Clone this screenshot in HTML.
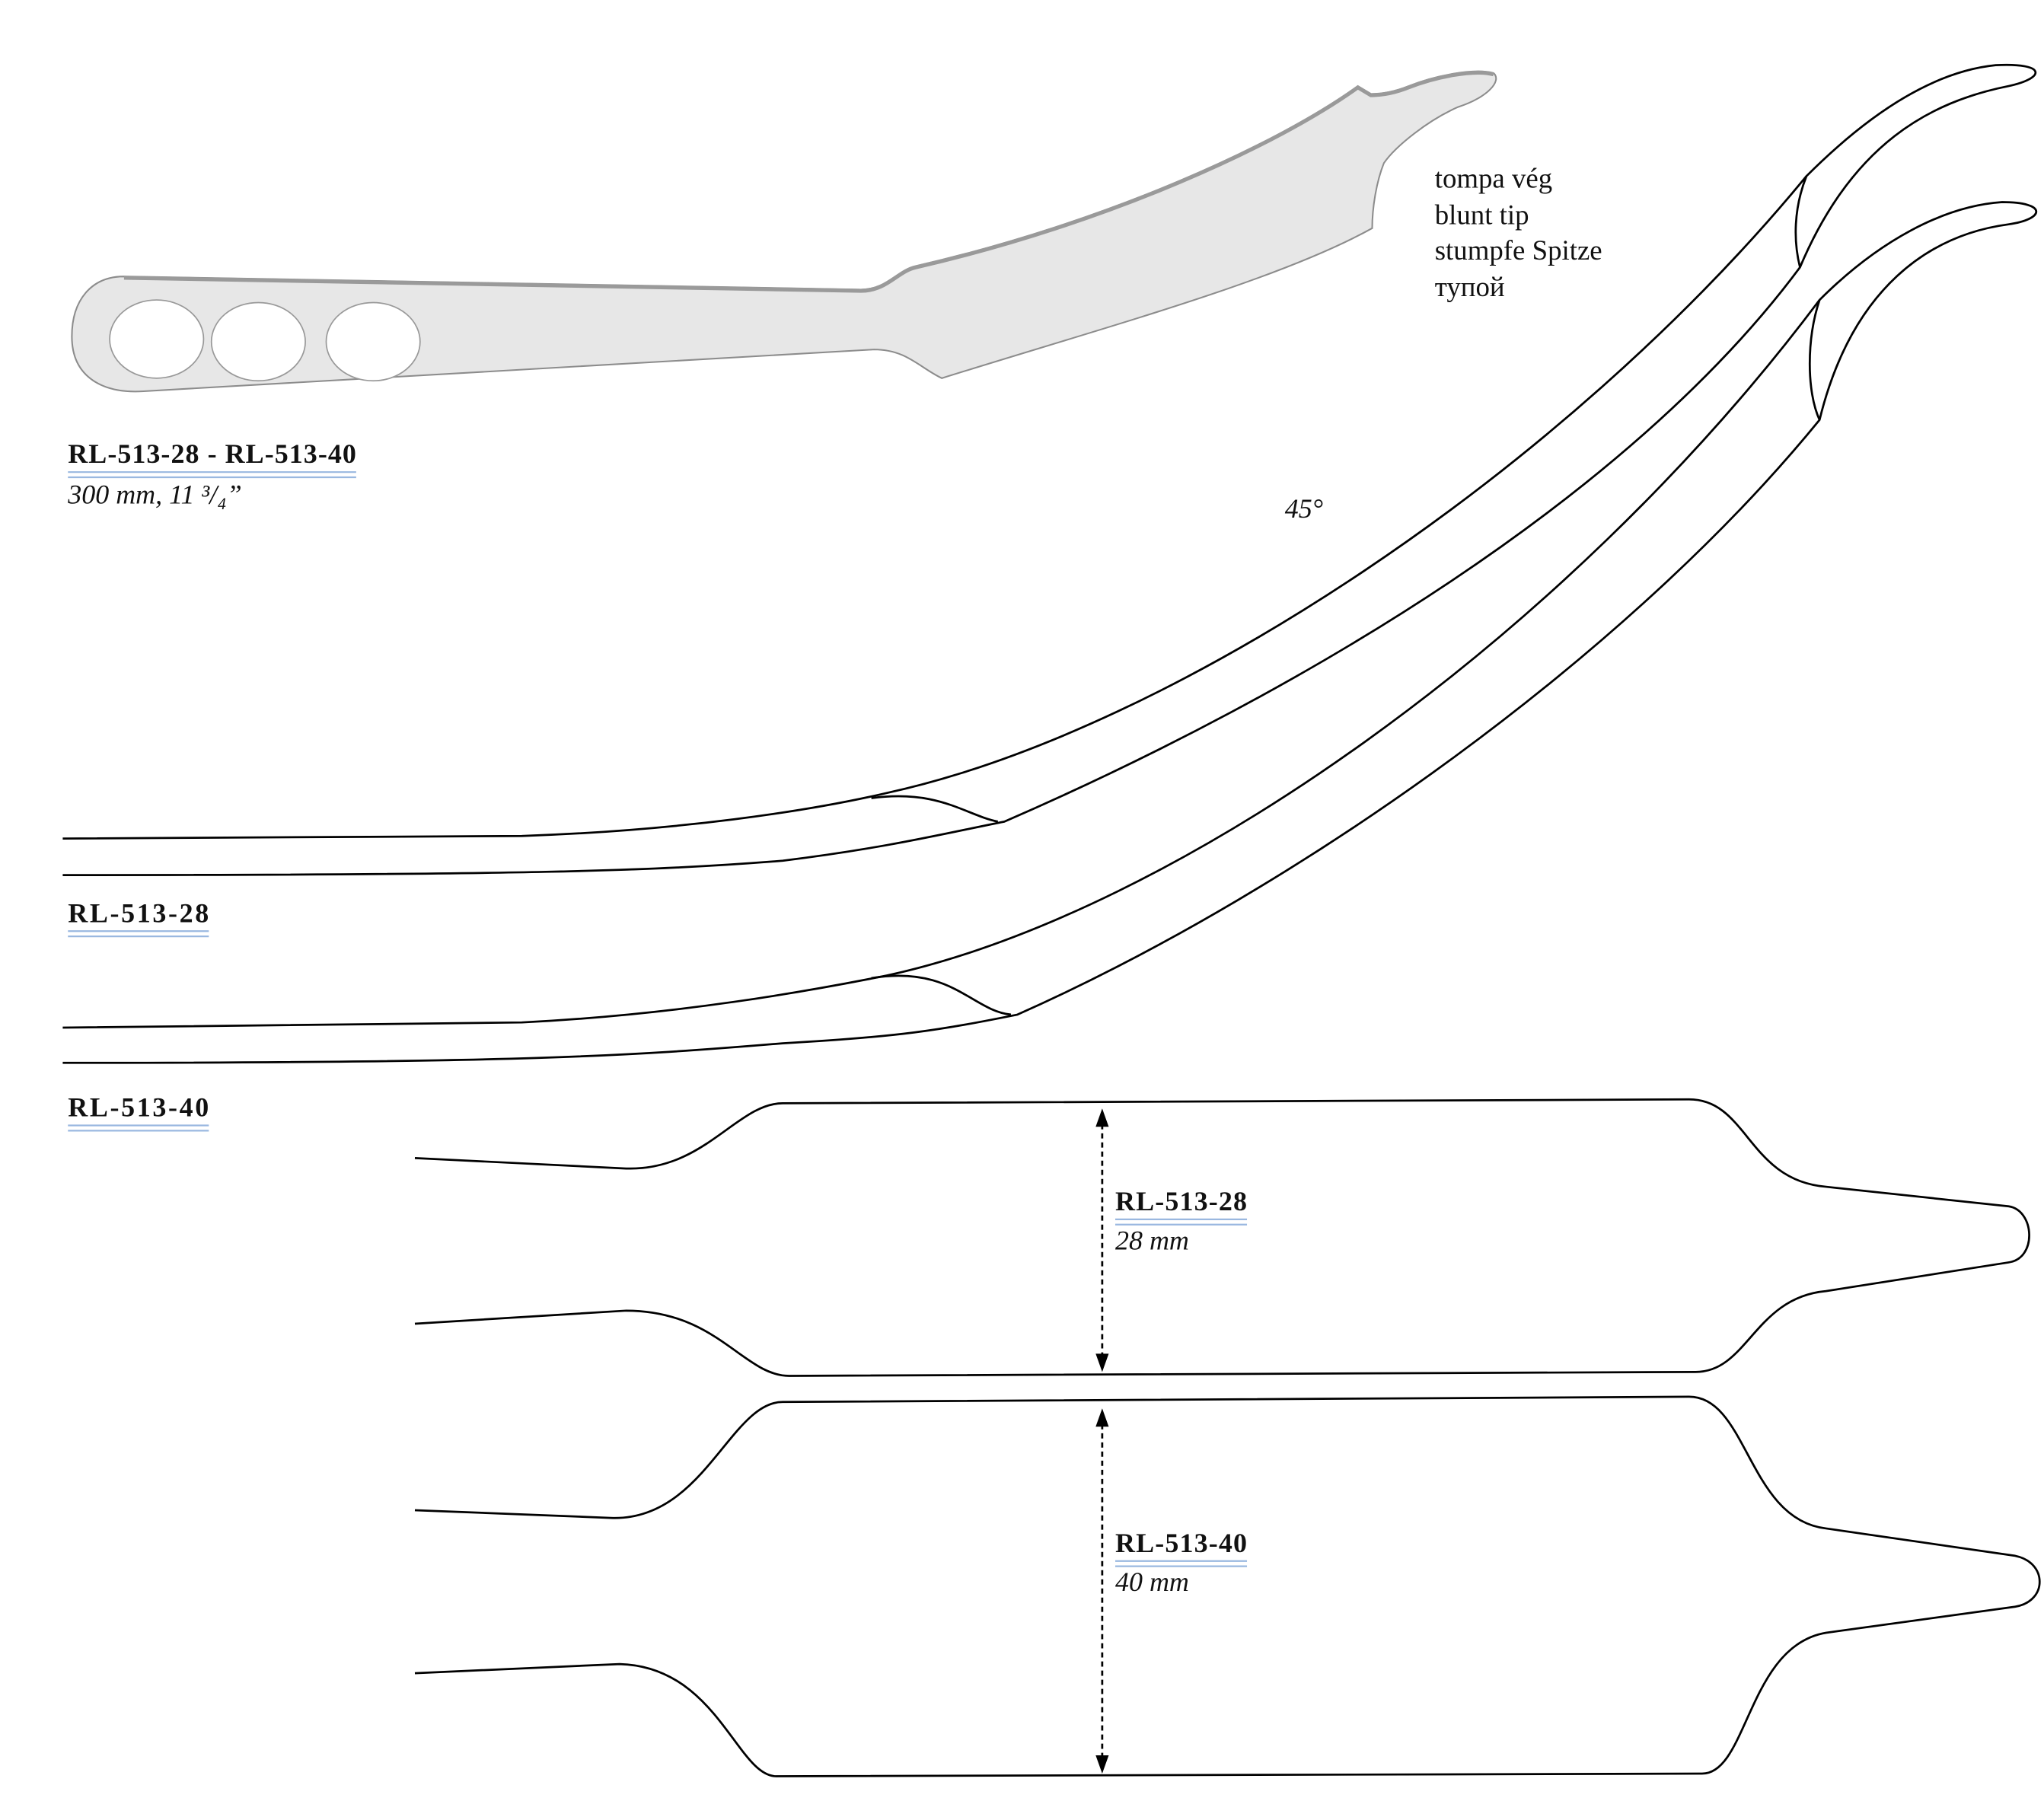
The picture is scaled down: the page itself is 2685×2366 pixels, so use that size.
<!DOCTYPE html>
<html><head><meta charset="utf-8"><style>
html,body{margin:0;padding:0;background:#fff}
svg{display:block}
text{font-family:"Liberation Serif",serif;fill:#111}
.b{font-weight:bold;font-size:21px}
.i{font-style:italic;font-size:21px}
.t{font-size:21.5px}
.l{fill:none;stroke:#000;stroke-width:1.6}
.u{stroke:#9ab8e0;stroke-width:1.3}
</style></head><body>
<svg width="2685" height="2366" viewBox="0 0 1567 1381" xmlns="http://www.w3.org/2000/svg">
<!-- photo instrument -->
<path d="M95,212 L660,222 C680,222 688,207 702,204 C850,170 980,110 1041,66 L1051,72 C1060,72 1070,70 1080,66 C1100,58 1130,52 1145,56 C1152,62 1140,75 1118,82 C1095,92 1070,112 1061,125 C1055,140 1052,160 1052,175 C980,215 850,250 722,290 C705,282 695,268 670,268 L110,300 C80,302 55,290 55,258 C55,230 70,212 95,212 Z" fill="#e7e7e7" stroke="#8c8c8c" stroke-width="1.2"/>
<path d="M95,213 L660,223 C680,223 688,208 702,205 C850,171 980,111 1041,67 L1051,73 C1060,73 1070,71 1080,67 C1100,59 1130,53 1145,57" fill="none" stroke="#9a9a9a" stroke-width="3"/>
<ellipse cx="120" cy="260" rx="36" ry="30" fill="#fff" stroke="#999"/>
<ellipse cx="198" cy="262" rx="36" ry="30" fill="#fff" stroke="#999"/>
<ellipse cx="286" cy="262" rx="36" ry="30" fill="#fff" stroke="#999"/>

<text x="52" y="355" class="b" textLength="221">RL-513-28 - RL-513-40</text>
<line x1="52" y1="362" x2="273" y2="362" class="u"/><line x1="52" y1="366" x2="273" y2="366" class="u"/>
<text x="52" y="386" class="i">300 mm, 11 ³/₄”</text>

<text x="1100" y="144" class="t">tompa vég</text>
<text x="1100" y="172" class="t">blunt tip</text>
<text x="1100" y="199" class="t">stumpfe Spitze</text>
<text x="1100" y="227" class="t">тупой</text>
<text x="985" y="397" class="i">45°</text>

<!-- side view 1 -->
<path class="l" d="M48,643 L400,641 C520,637 620,622 680,608 C900,560 1200,360 1385,135 C1430,90 1480,55 1530,50 C1570,48 1568,60 1540,66 C1480,78 1420,110 1380,205 C1250,380 1000,530 770,630 C720,640 680,650 600,660 C500,668 400,671 48,671"/>
<path class="l" d="M1385,135 C1375,160 1375,185 1380,205"/>
<path class="l" d="M668,612 C720,605 740,625 765,630"/>
<!-- side view 2 -->
<path class="l" d="M48,788 L400,784 C520,778 620,760 680,748 C900,700 1200,490 1395,230 C1440,185 1490,158 1535,155 C1570,155 1568,168 1540,172 C1480,180 1420,220 1395,322 C1250,500 1000,680 780,778 C720,790 690,795 600,800 C480,810 400,815 48,815"/>
<path class="l" d="M1395,230 C1385,260 1385,300 1395,322"/>
<path class="l" d="M668,750 C730,740 745,775 775,778"/>

<text x="52" y="707" class="b" textLength="108">RL-513-28</text>
<line x1="52" y1="714" x2="160" y2="714" class="u"/><line x1="52" y1="718" x2="160" y2="718" class="u"/>
<text x="52" y="856" class="b" textLength="108">RL-513-40</text>
<line x1="52" y1="863" x2="160" y2="863" class="u"/><line x1="52" y1="867" x2="160" y2="867" class="u"/>

<!-- top view 1 -->
<path class="l" d="M318,888 L480,896 C540,898 565,846 600,846 L1295,843 C1340,843 1340,905 1400,910 L1540,925 C1560,928 1562,965 1540,968 L1400,990 C1345,995 1340,1052 1300,1052 L605,1055 C570,1055 550,1005 480,1005 L318,1015"/>
<!-- top view 2 -->
<path class="l" d="M318,1158 L470,1164 C540,1165 560,1075 600,1075 L1295,1071 C1340,1071 1340,1165 1400,1172 L1545,1193 C1570,1198 1570,1228 1545,1232 L1400,1252 C1340,1262 1340,1360 1305,1360 L595,1362 C565,1362 550,1278 475,1276 L318,1283"/>

<!-- arrows -->
<line x1="845" y1="862" x2="845" y2="1040" stroke="#000" stroke-width="1.6" stroke-dasharray="4,3"/>
<path d="M845,850 L840,864 L850,864Z M845,1052 L840,1038 L850,1038Z"/>
<line x1="845" y1="1092" x2="845" y2="1348" stroke="#000" stroke-width="1.6" stroke-dasharray="4,3"/>
<path d="M845,1080 L840,1094 L850,1094Z M845,1360 L840,1346 L850,1346Z"/>

<text x="855" y="928" class="b" textLength="101">RL-513-28</text>
<line x1="855" y1="935" x2="956" y2="935" class="u"/><line x1="855" y1="939" x2="956" y2="939" class="u"/>
<text x="855" y="958" class="i">28 mm</text>
<text x="855" y="1190" class="b" textLength="101">RL-513-40</text>
<line x1="855" y1="1197" x2="956" y2="1197" class="u"/><line x1="855" y1="1201" x2="956" y2="1201" class="u"/>
<text x="855" y="1220" class="i">40 mm</text>
</svg>
</body></html>
